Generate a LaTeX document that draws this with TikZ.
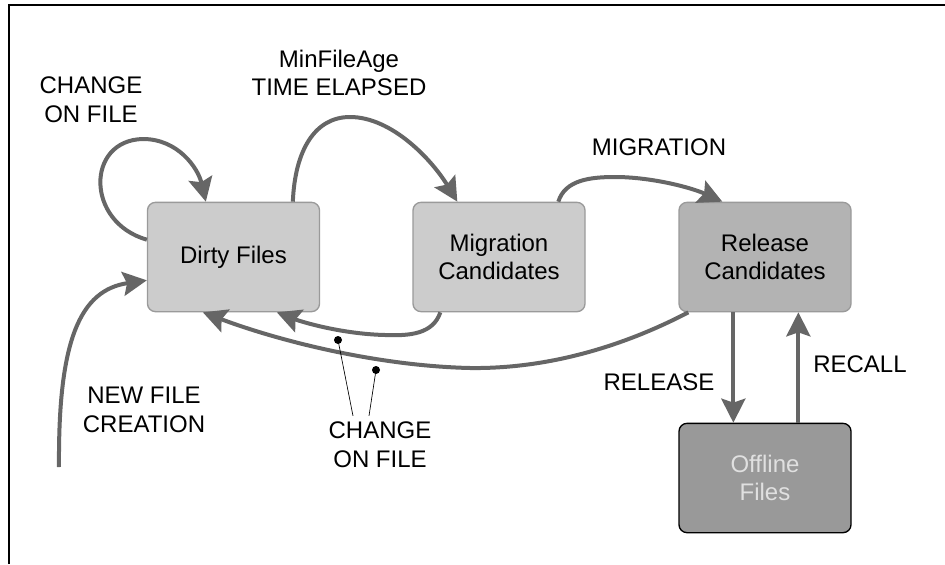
\documentclass[tikz,border=0pt]{standalone}
\usepackage{fontspec}
\setmainfont{Liberation Sans}
\usetikzlibrary{arrows.meta,calc}
\definecolor{flowgray}{HTML}{666666}
\definecolor{boxline}{HTML}{9A9A9A}
\definecolor{lightfill}{HTML}{CCCCCC}
\definecolor{midfill}{HTML}{B3B3B3}
\definecolor{darkfill}{HTML}{999999}
\definecolor{paletext}{HTML}{E0E0E0}
\newcommand\diagfont{\fontsize{18}{21.5}\selectfont}
\begin{document}
\begin{tikzpicture}[x=0.75pt,y=-0.75pt,
  state/.style={rectangle, rounded corners=6pt, draw=boxline, line width=1pt,
    minimum width=129pt, minimum height=82pt, align=center, inner sep=0pt,
    font=\diagfont},
  flow/.style={draw=flowgray, line width=3pt,
    -{Stealth[length=18pt,width=18pt,inset=3pt]}},
  lbl/.style={align=center, font=\diagfont, inner sep=0pt},
  pointer/.style={draw=black, line width=0.5pt},
  tick/.style={fill=black}]
\useasboundingbox (0,0) rectangle (945,564);

% frame
\draw[line width=1pt] (9,564) -- (9,5) -- (945,5);

% states
\node[state, fill=lightfill] (dirty) at (233.5,257) {Dirty Files};
\node[state, fill=lightfill] (mig)   at (499,257)   {Migration\\Candidates};
\node[state, fill=midfill]   (rel)   at (765,257)   {Release\\Candidates};
\node[state, fill=darkfill, draw=black, text=paletext] (off) at (765,478) {Offline\\Files};

% labels
\node[lbl] (chgA) at (91,100)  {CHANGE\\ON FILE};
\node[lbl] (age)  at (339,73)  {MinFileAge\\TIME ELAPSED};
\node[lbl] (migl) at (659,147) {MIGRATION};
\node[lbl] (newf) at (144,410) {NEW FILE\\CREATION};
\node[lbl] (chgB) at (380,445) {CHANGE\\ON FILE};
\node[lbl] (rell) at (659,382) {RELEASE};
\node[lbl] (recl) at (860,364) {RECALL};

% self loop on dirty files
\draw[flow] ($(dirty.north west)+(0,38)$)
  .. controls (85,222) and (86,140) .. (143,139)
  .. controls (178,139) and (198,168) .. ($(dirty.north west)+(59,0)$);

% min file age elapsed
\draw[flow] ($(dirty.north west)+(146,0)$)
  .. controls (295,150) and (315,117) .. (350,117)
  .. controls (392,117) and (432,160) .. ($(mig.north west)+(45,0)$);

% migration
\draw[flow] ($(mig.north west)+(146,0)$)
  .. controls (565,180) and (590,177) .. (615,177)
  .. controls (650,177) and (690,187) .. ($(rel.north west)+(44,0)$);

% change on file: back to dirty files
\draw[flow] ($(mig.south west)+(28,0)$)
  .. controls (433,334) and (410,336) .. (385,335)
  .. controls (342,334) and (302,322) .. ($(dirty.south west)+(130,0)$);
\draw[flow] ($(rel.south west)+(10,0)$)
  .. controls (620,348) and (545,369) .. (470,368)
  .. controls (380,366) and (282,342) .. ($(dirty.south west)+(56,0)$);

% new file creation
\coordinate (newsrc) at (59,467);
\draw[flow] (newsrc)
  .. controls (58,340) and (80,290) .. ($(dirty.south west)+(0,-32)$);

% release and recall
\draw[flow] ($(rel.south west)+(55,0)$) -- ($(off.north west)+(55,0)$);
\draw[flow] ($(off.north west)+(120,0)$) -- ($(rel.south west)+(120,0)$);

% pointers from the change label to the two return flows
\coordinate (dotA) at (338,340);
\coordinate (dotB) at (376,370);
\draw[pointer] (dotA) -- ($(chgB.north)+(-27,-6)$);
\draw[pointer] (dotB) -- ($(chgB.north)+(-11,-6)$);
\fill[tick] (dotA) circle (3pt);
\fill[tick] (dotB) circle (3pt);
\end{tikzpicture}
\end{document}
